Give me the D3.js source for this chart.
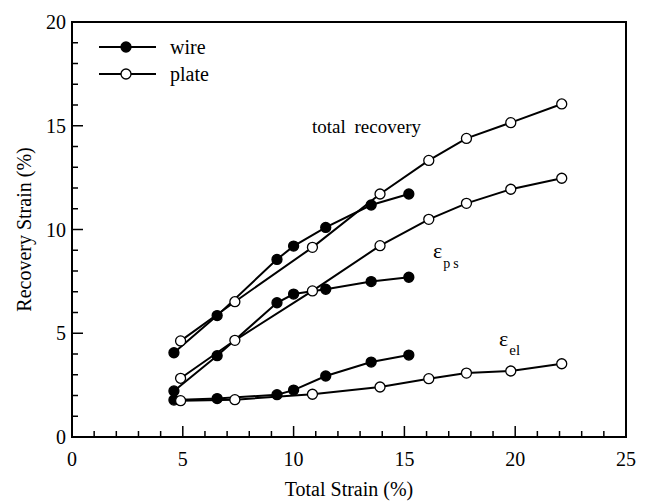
<!DOCTYPE html>
<html>
<head>
<meta charset="utf-8">
<script src="https://cdn.jsdelivr.net/npm/d3@7"></script>
<style>
  body { margin: 0; }
  #chart text { font-family: "Liberation Serif", "Times New Roman", serif; }
</style>
</head>
<body>
<svg id="chart" width="651" height="504"></svg>
<script>
    //Measured strains, wire and plate specimens
    let wireX = [4.6, 6.55, 9.25, 10.0, 11.45, 13.5, 15.2];
    let wireTotal = [4.06, 5.85, 8.56, 9.2, 10.1, 11.18, 11.71];
    let wirePs = [2.22, 3.92, 6.47, 6.89, 7.12, 7.49, 7.70];
    let wireEl = [1.78, 1.85, 2.04, 2.26, 2.94, 3.61, 3.95];

    let plateX = [4.9, 7.35, 10.85, 13.9, 16.1, 17.8, 19.8, 22.1];
    let plateTotal = [4.63, 6.52, 9.14, 11.71, 13.33, 14.39, 15.15, 16.05];
    let platePs = [2.83, 4.66, 7.04, 9.22, 10.49, 11.26, 11.94, 12.47];
    let plateEl = [1.75, 1.80, 2.06, 2.41, 2.81, 3.08, 3.18, 3.53];

    let xTicks = [0, 5, 10, 15, 20, 25];
    let yTicks = [0, 5, 10, 15, 20];

    //Width and Height
    let width = 651;
    let height = 504;
    let margin = {left: 72, right: 25, top: 22, bottom: 67};

    let x = d3.scaleLinear().domain([0, 25]).range([margin.left, width - margin.right]);
    let y = d3.scaleLinear().domain([0, 20]).range([height - margin.bottom, margin.top]);

    let chart = d3.select("#chart");

    //Frame
    chart.append("rect")
      .attr("x", x(0))
      .attr("y", y(20))
      .attr("width", x(25) - x(0))
      .attr("height", y(0) - y(20))
      .attr("fill", "none")
      .attr("stroke", "#000")
      .attr("stroke-width", 2);

    //Inward ticks, minor every 1, major every 5
    chart.append("g").selectAll("line")
      .data(x.ticks(25))
      .enter()
      .append("line")
      .attr("x1", d => x(d)).attr("x2", d => x(d))
      .attr("y1", y(0)).attr("y2", d => y(0) - (d % 5 == 0 ? 11 : 6))
      .attr("stroke", "#000").attr("stroke-width", 1.5);

    chart.append("g").selectAll("line")
      .data(y.ticks(20))
      .enter()
      .append("line")
      .attr("y1", d => y(d)).attr("y2", d => y(d))
      .attr("x1", x(0)).attr("x2", d => x(0) + (d % 5 == 0 ? 11 : 6))
      .attr("stroke", "#000").attr("stroke-width", 1.5);

    //Tick labels
    chart.append("g").selectAll("text")
      .data(xTicks)
      .enter()
      .append("text")
      .attr("x", d => x(d))
      .attr("y", y(0) + 29)
      .attr("text-anchor", "middle")
      .style("font-size", "20px")
      .text(d => d);

    chart.append("g").selectAll("text")
      .data(yTicks)
      .enter()
      .append("text")
      .attr("x", x(0) - 6)
      .attr("y", d => y(d) + 7)
      .attr("text-anchor", "end")
      .style("font-size", "20px")
      .text(d => d);

    //Axis titles
    chart.append("text")
      .attr("x", (x(0) + x(25)) / 2)
      .attr("y", 496)
      .attr("text-anchor", "middle")
      .style("font-size", "20px")
      .text("Total Strain (%)");

    chart.append("text")
      .attr("transform", "translate(31," + y(10) + ") rotate(-90)")
      .attr("text-anchor", "middle")
      .style("font-size", "20px")
      .text("Recovery Strain (%)");

    //Series
    let series = [
      {xs: wireX, ys: wireTotal, fill: "#000"},
      {xs: wireX, ys: wirePs, fill: "#000"},
      {xs: wireX, ys: wireEl, fill: "#000"},
      {xs: plateX, ys: plateTotal, fill: "#fff"},
      {xs: plateX, ys: platePs, fill: "#fff"},
      {xs: plateX, ys: plateEl, fill: "#fff"}
    ];

    let line = d3.line()
      .x(d => x(d[0]))
      .y(d => y(d[1]));

    series.forEach(function(s) {
      let pts = s.xs.map((v, i) => [v, s.ys[i]]);
      chart.append("path")
        .attr("d", line(pts))
        .attr("fill", "none")
        .attr("stroke", "#000")
        .attr("stroke-width", 2);
    });

    series.forEach(function(s) {
      let pts = s.xs.map((v, i) => [v, s.ys[i]]);
      chart.append("g").selectAll("circle")
        .data(pts)
        .enter()
        .append("circle")
        .attr("cx", d => x(d[0]))
        .attr("cy", d => y(d[1]))
        .attr("r", 5)
        .attr("fill", s.fill)
        .attr("stroke", "#000")
        .attr("stroke-width", 1.3);
    });

    //Legend
    let legend = [{label: "wire", fill: "#000", y: 47}, {label: "plate", fill: "#fff", y: 74}];
    legend.forEach(function(l) {
      chart.append("line")
        .attr("x1", 99).attr("x2", 156)
        .attr("y1", l.y).attr("y2", l.y)
        .attr("stroke", "#000").attr("stroke-width", 2);
      chart.append("circle")
        .attr("cx", 126).attr("cy", l.y).attr("r", 5)
        .attr("fill", l.fill).attr("stroke", "#000").attr("stroke-width", 1.3);
      chart.append("text")
        .attr("x", 170).attr("y", l.y + 7)
        .style("font-size", "20px")
        .text(l.label);
    });

    //Curve labels
    chart.append("text")
      .attr("x", 312).attr("y", 133)
      .style("font-size", "19px")
      .style("word-spacing", "4px")
      .text("total recovery");

    let ps = chart.append("text").attr("x", 433).attr("y", 258).style("font-size", "22px");
    ps.append("tspan").text("ε");
    ps.append("tspan").attr("dy", 10).attr("dx", 1).style("font-size", "14px").style("letter-spacing", "3px").text("ps");

    let el = chart.append("text").attr("x", 499).attr("y", 346).style("font-size", "22px");
    el.append("tspan").text("ε");
    el.append("tspan").attr("dy", 9).attr("dx", 1).style("font-size", "15px").text("el");
</script>
</body>
</html>
